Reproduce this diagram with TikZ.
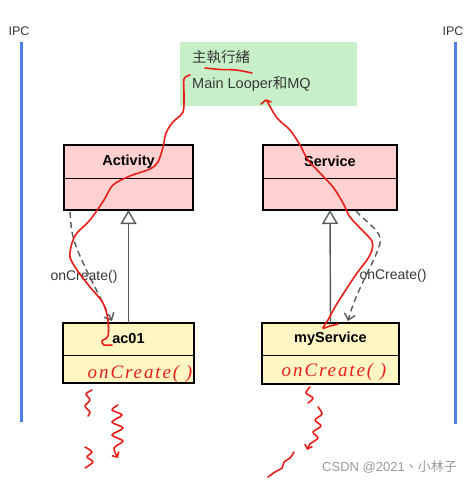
\documentclass[tikz,border=0pt]{standalone}
\usepackage{fontspec}
\setmainfont{Liberation Sans}
\newfontfamily\cjk{Noto Sans CJK TC}
\newfontfamily\handfont{Liberation Serif}
\usetikzlibrary{arrows.meta,positioning}
\definecolor{pinkfill}{RGB}{255,208,208}
\definecolor{yelfill}{RGB}{255,246,196}
\definecolor{grnfill}{RGB}{200,240,200}
\definecolor{ipcblue}{RGB}{80,125,230}
\definecolor{pen}{RGB}{232,30,25}
\definecolor{txtgray}{RGB}{55,55,55}
\definecolor{lngray}{RGB}{90,90,90}
\begin{document}
\begin{tikzpicture}[x=1pt,y=-1pt,
  cname/.style={inner sep=0pt, outer sep=0pt, font=\fontsize{14.5}{16}\selectfont\bfseries, text=black},
  cbody/.style={inner sep=0pt, outer sep=0pt, anchor=north},
  frame/.style={draw=black, line width=2pt},
  divider/.style={draw=black, line width=1pt},
  inh/.style={draw=lngray, line width=1.4pt, -{Triangle[open, length=14pt, width=16pt, fill=white]}},
  cbline/.style={draw=lngray, line width=1.4pt, dash pattern=on 6pt off 4pt, -{Straight Barb[length=6pt, width=11pt]}},
  lbl/.style={font=\fontsize{14}{16}\selectfont, text=txtgray},
  ipc/.style={font=\fontsize{12.5}{14}\selectfont, text=txtgray},
  ipcline/.style={draw=ipcblue, line width=3pt},
  pen/.style={draw=pen, line width=1.6pt, line cap=round, line join=round},
  hand/.style={font=\handfont\itshape\fontsize{19}{21}\selectfont\addfontfeatures{LetterSpace=10}, text=pen}
]
\useasboundingbox[fill=white] (0,0) rectangle (470,482);

% IPC boundaries
\node[ipc] (ipcl) at (19,31) {IPC};
\node[ipc] (ipcr) at (453,31) {IPC};
\coordinate (bl0) at (21,42); \coordinate (bl1) at (21,422);
\coordinate (br0) at (455,42); \coordinate (br1) at (455,424);
\draw[ipcline] (bl0) -- (bl1);
\draw[ipcline] (br0) -- (br1);

% main thread box
\node[fill=grnfill, minimum width=177pt, minimum height=64pt, inner sep=0pt, anchor=north west] (thr) at (180,42) {};
\node[anchor=west, inner sep=0pt, font=\cjk\fontsize{14.5}{16}\selectfont, text=txtgray] (thrt) at (192,57) {主執行緒};
\node[anchor=west, inner sep=0pt, font=\fontsize{14.5}{16}\selectfont, text=txtgray] (thrm) at (192,84) {Main Looper{\cjk 和}MQ};

% Activity
\node[cname, fill=pinkfill, minimum width=129pt, minimum height=33pt] (act) at (128.5,161.5) {Activity};
\node[cbody, fill=pinkfill, minimum width=129pt, minimum height=32pt] (actb) at (act.south) {};
\draw[frame] (act.north west) rectangle (actb.south east);
\draw[divider] (act.south west) -- (act.south east);

% Service
\node[cname, fill=pinkfill, minimum width=134pt, minimum height=33pt] (srv) at (330,161.5) {Service};
\node[cbody, fill=pinkfill, minimum width=134pt, minimum height=32pt] (srvb) at (srv.south) {};
\draw[frame] (srv.north west) rectangle (srvb.south east);
\draw[divider] (srv.south west) -- (srv.south east);

% ac01
\node[cname, fill=yelfill, minimum width=131pt, minimum height=32pt] (ac) at (128.5,339) {ac01};
\node[cbody, fill=yelfill, minimum width=131pt, minimum height=28pt] (acb) at (ac.south) {};
\draw[frame] (ac.north west) rectangle (acb.south east);
\draw[divider] (ac.south west) -- (ac.south east);

% myService
\node[cname, fill=yelfill, minimum width=137pt, minimum height=32pt] (ms) at (330.5,339) {myService};
\node[cbody, fill=yelfill, minimum width=137pt, minimum height=29pt] (msb) at (ms.south) {};
\draw[frame] (ms.north west) rectangle (msb.south east);
\draw[divider] (ms.south west) -- (ms.south east);

% inheritance
\draw[inh] (ac.north) -- (actb.south);
\draw[inh] (ms.north) -- (srvb.south);

% callbacks
\coordinate (ld0) at (70,212); \coordinate (ld1) at (112,321);
\draw[cbline] (ld0) .. controls (72,242) .. (ld1);
\coordinate (rd0) at (356,211); \coordinate (rd1) at (348,321);
\draw[cbline] (rd0) .. controls (368,224) and (383,232) .. (380,243) .. controls (377,258) and (356,290) .. (rd1);
\node[lbl] (ocl) at (84,277) {onCreate()};
\node[lbl] (ocr) at (393,276) {onCreate()};

% red handwriting
\draw[pen] plot[smooth, tension=0.55] coordinates {(205,68) (220,69.5) (236,70) (252,73)};
\draw[pen] plot[smooth, tension=0.5] coordinates {(190,75) (184,79) (184,95) (183,112) (173,122) (166,133) (163,147) (158,162) (150,169) (130,176) (113,185) (104,200) (90,220) (77,233) (72,243) (70,257) (77,270) (90,287) (103,303) (108,320) (108,336) (102,341) (104,345) (112,345)};
\draw[pen] (261,104) -- (266,100) -- (271,102);
\draw[pen] plot[smooth, tension=0.5] coordinates {(267,101) (277,118) (290,130) (300,145) (308,160) (320,173) (333,187) (343,203) (350,217) (362,230) (372,241) (372,250) (367,260) (357,273) (347,288) (335,307) (328,320) (323,328) (330,326) (338,324)};
\node[hand] (hw1) at (140,374) {onCreate( )};
\node[hand] (hw2) at (334,372) {onCreate( )};

\draw[pen] plot[smooth] coordinates {(92,390) (86,394) (90,400) (85,406) (90,412) (88,416)};
\draw[pen, -{Straight Barb[length=4pt, width=8pt]}] plot[smooth, tension=0.5] coordinates {(118,405) (112,410) (122,415) (112,422) (123,428) (112,435) (123,441) (114,448) (118,458)};
\draw[pen] plot[smooth] coordinates {(85,447) (92,452) (87,457) (93,462) (85,468)};

\draw[pen] plot[smooth] coordinates {(310,387) (306,393) (313,398) (308,403)};
\draw[pen, -{Straight Barb[length=4pt, width=8pt]}] plot[smooth, tension=0.5] coordinates {(318,407) (322,414) (315,420) (321,426) (313,432) (318,438) (310,444) (307,450)};
\draw[pen] plot[smooth] coordinates {(294,452) (290,458) (284,462) (282,468) (275,472) (268,477)};

% watermark
\node[anchor=east, inner sep=0pt, text=black!40, font=\fontsize{13}{15}\selectfont] (wm) at (457,467) {CSDN @2021{\cjk 、小林子}};
\end{tikzpicture}
\end{document}
